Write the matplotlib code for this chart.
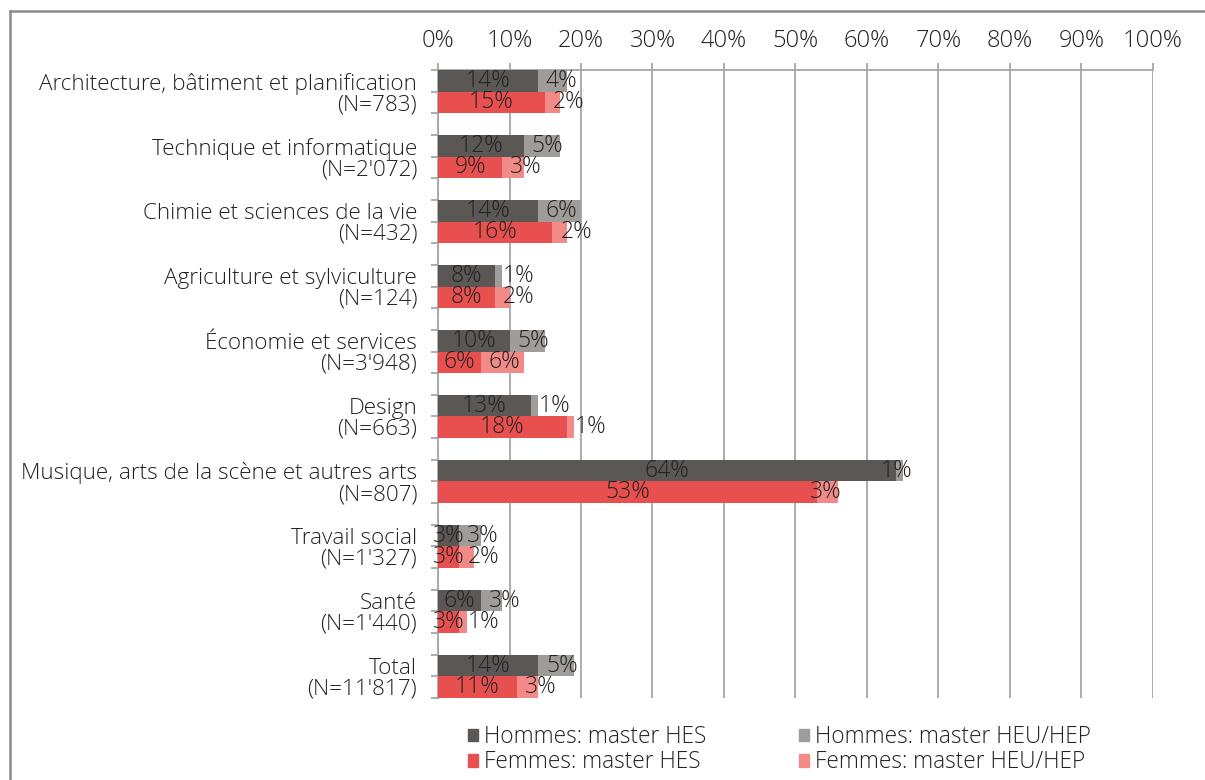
import numpy as np
import matplotlib.pyplot as plt
from matplotlib.lines import Line2D
from matplotlib.patches import Patch

plt.rcParams['font.family'] = ['Open Sans', 'DejaVu Sans']

# ── data ─────────────────────────────────────────────
categories = [
    'Architecture, bâtiment et planification', 'Technique et informatique',
    'Chimie et sciences de la vie', 'Agriculture et sylviculture',
    'Économie et services', 'Design', 'Musique, arts de la scène et autres arts',
    'Travail social', 'Santé', 'Total'
]
n_labels = ["783", "2'072", "432", "124", "3'948", "663", "807", "1'327", "1'440", "11'817"]

hommes_hes = [14, 12, 14, 8, 10, 13, 64, 3, 6, 14]
hommes_heu = [4, 5, 6, 1, 5, 1, 1, 3, 3, 5]
femmes_hes = [15, 9, 16, 8, 6, 18, 53, 3, 3, 11]
femmes_heu = [2, 3, 2, 2, 6, 1, 3, 2, 1, 3]

c_h_hes = '#5a5755'
c_h_heu = '#a09c99'
c_f_hes = '#e8504f'
c_f_heu = '#f28a88'
txt_col = '#222222'
grid_col = '#a6a6a6'
fw = 'light'

fig = plt.figure(figsize=(12.05, 7.8), dpi=100)
ax = fig.add_axes([0.3635, 0.1051, 0.5933, 0.8052])

idx = np.arange(len(categories))
y_h = idx * 3 + 0.5
y_f = idx * 3 + 1.5

def draw_pair(y, a, b, ca, cb):
    ax.barh(y, a, height=1.0, color=ca, zorder=3)
    ax.barh(y, b, left=a, height=1.0, color=cb, zorder=3)
    for yy, va, vb in zip(y, a, b):
        ax.text(va / 2, yy, f'{va}%', ha='center', va='center',
                fontsize=16.5, color=txt_col, weight=fw, zorder=4)
        # second label: centred on long bars, pushed just past the first segment otherwise
        if va > 40:
            ax.text(va + vb / 2 - 0.3, yy, f'{vb}%', ha='center', va='center',
                    fontsize=16.5, color=txt_col, weight=fw, zorder=4)
        else:
            ax.text(va + 1.1, yy, f'{vb}%', ha='left', va='center',
                    fontsize=16.5, color=txt_col, weight=fw, zorder=4)

draw_pair(y_h, hommes_hes, hommes_heu, c_h_hes, c_h_heu)
draw_pair(y_f, femmes_hes, femmes_heu, c_f_hes, c_f_heu)

ax.set_xlim(0, 100)
ax.set_ylim(29, 0)
ax.xaxis.tick_top()
ax.set_xticks(np.arange(0, 101, 10))
ax.set_xticklabels([f'{v}%' for v in range(0, 101, 10)], fontsize=17, color=txt_col, weight=fw)
ax.tick_params(axis='x', direction='out', length=5, color=grid_col, width=1.3, pad=7)
ax.grid(axis='x', color=grid_col, lw=1.3, zorder=0)

ax.set_yticks(np.arange(0, 30), minor=True)
ax.set_yticks(idx * 3 + 1)
ax.set_yticklabels([f'{c}\n(N={n})' for c, n in zip(categories, n_labels)],
                   fontsize=16.2, color=txt_col, linespacing=0.98, weight=fw)
ax.tick_params(axis='y', which='major', length=5, color=grid_col, width=1.3, pad=10)
ax.tick_params(axis='y', which='minor', length=5, color=grid_col, width=1.3)

for s in ['right', 'bottom']:
    ax.spines[s].set_visible(False)
for s in ['left', 'top']:
    ax.spines[s].set_color(grid_col)
    ax.spines[s].set_linewidth(1.3)

handles = [Patch(color=c_h_hes), Patch(color=c_f_hes), Patch(color=c_h_heu), Patch(color=c_f_heu)]
labels = ['Hommes: master HES', 'Femmes: master HES', 'Hommes: master HEU/HEP', 'Femmes: master HEU/HEP']
leg = fig.legend(handles, labels, ncol=2, loc='center left', bbox_to_anchor=(0.379, 0.039),
                 frameon=False, fontsize=16.3, handlelength=0.45, handleheight=0.45,
                 handletextpad=0.25, columnspacing=4.1, labelspacing=0.08, borderpad=0)
for t in leg.get_texts():
    t.set_color(txt_col)
    t.set_fontweight(fw)

# outer frame
fig.add_artist(Line2D([10 / 1205, 1], [1 - 11 / 780, 1 - 11 / 780], color='#8a8a8a', lw=1.8))
fig.add_artist(Line2D([10 / 1205, 10 / 1205], [0, 1 - 11 / 780], color='#8a8a8a', lw=1.8))

fig.savefig('out.png', dpi=100)
